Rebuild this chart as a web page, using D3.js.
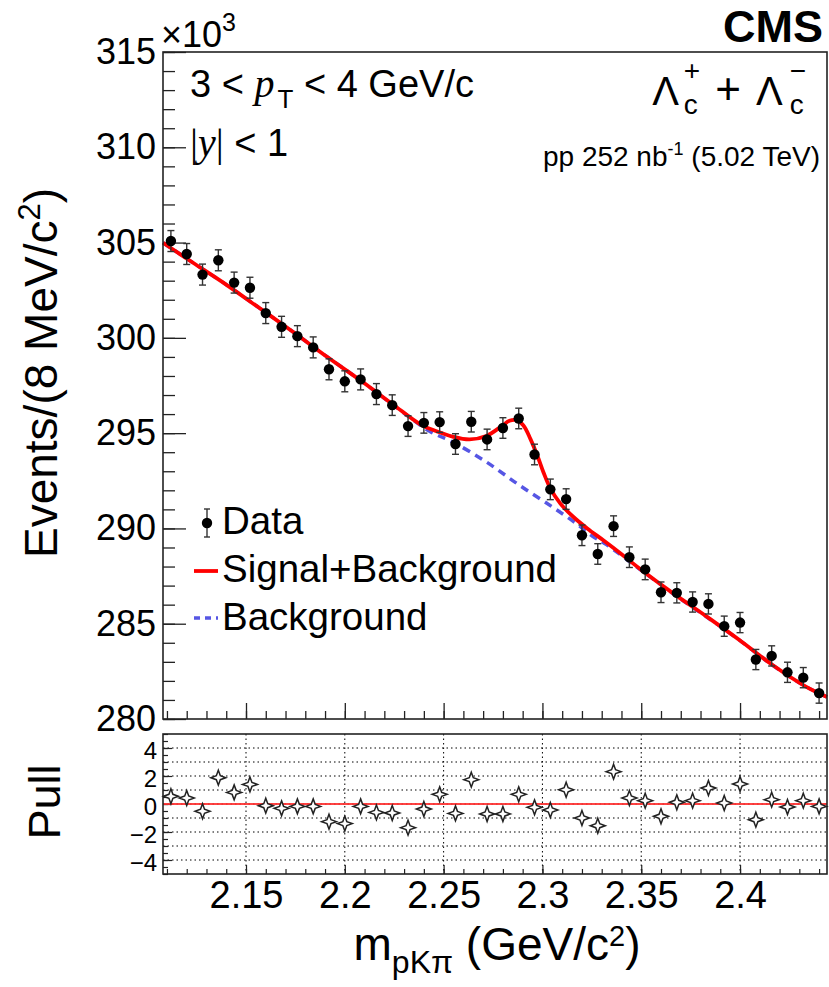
<!DOCTYPE html>
<html><head><meta charset="utf-8">
<script src="https://cdn.jsdelivr.net/npm/d3@7/dist/d3.min.js"></script>
<style>
html,body{margin:0;padding:0;background:#fff;}
svg{display:block;}
text{font-family:"Liberation Sans",Arial,Helvetica,sans-serif;fill:#000;}
</style></head>
<body>
<svg id="c" width="829" height="987"></svg>
<script>
// ---------------- data (counts in units of 10^3) ----------------
const massBins = [2.112,2.120,2.128,2.136,2.144,2.152,2.160,2.168,2.176,2.184,2.192,2.200,2.208,2.216,
  2.224,2.232,2.240,2.248,2.256,2.264,2.272,2.280,2.288,2.296,2.304,2.312,2.320,2.328,2.336,2.344,
  2.352,2.360,2.368,2.376,2.384,2.392,2.400,2.408,2.416,2.424,2.432,2.440];
const events = [305.08,304.40,303.32,304.07,302.90,302.63,301.30,300.58,300.09,299.50,298.35,297.72,
  297.82,297.05,296.47,295.37,295.54,295.58,294.43,295.60,294.67,295.27,295.77,293.88,292.05,291.54,
  289.64,288.66,290.12,288.49,287.85,286.65,286.62,286.14,286.04,284.87,285.06,283.12,283.31,282.45,
  282.17,281.36];
const eventErrors = [0.55,0.55,0.55,0.55,0.55,0.55,0.55,0.55,0.55,0.55,0.55,0.55,0.55,0.55,0.54,0.54,
  0.54,0.54,0.54,0.54,0.54,0.54,0.54,0.54,0.54,0.54,0.54,0.54,0.54,0.54,0.54,0.54,0.53,0.53,0.53,0.53,
  0.53,0.53,0.53,0.53,0.53,0.53];
const pulls = [0.55,0.43,-0.52,1.88,0.83,1.40,-0.12,-0.31,-0.17,-0.17,-1.26,-1.40,-0.17,-0.60,-0.64,
  -1.69,-0.36,0.69,-0.67,1.74,-0.71,-0.71,0.69,-0.24,-0.43,1.02,-1.00,-1.55,2.31,0.43,0.24,-0.88,0.12,
  0.24,1.14,0.07,1.43,-1.12,0.31,-0.21,0.24,-0.17];
// fitted curves, sampled from the figure
const fitMass = [2.108,2.1232,2.1403,2.1570,2.1737,2.1908,2.2075,2.2242,2.2384,2.2464,2.2545,2.2631,
  2.2716,2.2798,2.2833,2.2869,2.2904,2.2939,2.2975,2.3005,2.3040,2.3091,2.3157,2.3227,2.3308,2.3394,
  2.3491,2.3658,2.3828,2.3995,2.4161,2.4333,2.444];
const fitSB = [304.99,303.94,302.77,301.55,300.32,299.02,297.80,296.52,295.45,295.10,294.82,294.67,
  294.85,295.40,295.65,295.68,295.40,294.70,293.80,292.95,292.10,291.30,290.60,290.00,289.38,288.70,
  287.90,286.62,285.40,284.16,282.86,281.70,281.16];
const bkgMass = [2.108,2.1232,2.1403,2.1570,2.1737,2.1908,2.2075,2.2242,2.2429,2.2545,2.2716,2.2883,
  2.3050,2.3171,2.3252,2.3324,2.3491,2.3658,2.3828,2.3995,2.4161,2.4333,2.444];
const fitB = [304.99,303.94,302.77,301.55,300.32,299.02,297.80,296.50,295.10,294.54,293.49,292.27,
  291.13,290.26,289.60,289.15,287.87,286.60,285.38,284.15,282.85,281.70,281.16];
const yTicksMain = [280,285,290,295,300,305,310,315];
const xTicks = [2.15,2.2,2.25,2.3,2.35,2.4];
const xTickLabels = ["2.15","2.2","2.25","2.3","2.35","2.4"];
const pullTicks = [-4,-2,0,2,4];
const legendLabels = ["Data","Signal+Background","Background"];

// ---------------- layout ----------------
const L = 163, R = 827, T = 52, B = 719, PT = 734, PB = 874;
const svg = d3.select("#c");
const x = d3.scaleLinear().domain([2.108, 2.444]).range([L, R]);
const y = d3.scaleLinear().domain([280, 315]).range([B, T]);
const yp = d3.scaleLinear().domain([-5, 5]).range([PB, PT]);
const frameCol = "#222";
const SANS = "Liberation Sans, Arial, sans-serif";
const SERIF = "Liberation Serif, Times New Roman, serif";

// ---------- main panel ----------
const main = svg.append("g");
main.append("g").attr("transform", `translate(${L},0)`)
  .call(d3.axisLeft(y).tickValues(d3.range(280, 316, 1)).tickSizeInner(-12).tickSizeOuter(0).tickFormat(""))
  .call(g => g.select(".domain").remove()).selectAll("line").attr("stroke", frameCol).attr("stroke-width", 1.3);
main.append("g").attr("transform", `translate(${L},0)`)
  .call(d3.axisLeft(y).tickValues(yTicksMain).tickSizeInner(-23).tickSizeOuter(0).tickPadding(7).tickFormat(d3.format("d")))
  .call(g => g.select(".domain").remove())
  .call(g => g.selectAll("line").attr("stroke", frameCol).attr("stroke-width", 1.3))
  .call(g => g.selectAll("text").attr("font-size", 36).attr("font-family", SANS).attr("fill", "#000"));
main.append("g").attr("transform", `translate(0,${B})`)
  .call(d3.axisBottom(x).tickValues(d3.range(2.11, 2.445, 0.01)).tickSizeInner(-8).tickSizeOuter(0).tickFormat(""))
  .call(g => g.select(".domain").remove()).selectAll("line").attr("stroke", frameCol).attr("stroke-width", 1.3);
main.append("g").attr("transform", `translate(0,${B})`)
  .call(d3.axisBottom(x).tickValues(xTicks).tickSizeInner(-16).tickSizeOuter(0).tickFormat(""))
  .call(g => g.select(".domain").remove()).selectAll("line").attr("stroke", frameCol).attr("stroke-width", 1.3);

// background curve
const lineB = d3.line().x((d, i) => x(bkgMass[i])).y(d => y(d)).curve(d3.curveCatmullRom.alpha(0.5));
main.append("path").attr("d", lineB(fitB)).attr("fill", "none").attr("stroke", "#5656e4")
  .attr("stroke-width", 3.5).attr("stroke-dasharray", "8,6");
// S+B curve
const lineSB = d3.line().x((d, i) => x(fitMass[i])).y(d => y(d)).curve(d3.curveCatmullRom.alpha(0.5));
main.append("path").attr("d", lineSB(fitSB)).attr("fill", "none").attr("stroke", "#ff0000").attr("stroke-width", 3.8);

// data points
const pts = main.append("g");
events.forEach((v, i) => {
  const cx = x(massBins[i]), e = eventErrors[i];
  const y1 = y(v + e), y2 = y(v - e);
  pts.append("line").attr("x1", cx).attr("x2", cx).attr("y1", y1).attr("y2", y2).attr("stroke", "#333").attr("stroke-width", 1.4);
  pts.append("line").attr("x1", cx - 3.5).attr("x2", cx + 3.5).attr("y1", y1).attr("y2", y1).attr("stroke", "#333").attr("stroke-width", 1.4);
  pts.append("line").attr("x1", cx - 3.5).attr("x2", cx + 3.5).attr("y1", y2).attr("y2", y2).attr("stroke", "#333").attr("stroke-width", 1.4);
  pts.append("circle").attr("cx", cx).attr("cy", y(v)).attr("r", 5.2).attr("fill", "#000");
});

main.append("rect").attr("x", L).attr("y", T).attr("width", R - L).attr("height", B - T)
  .attr("fill", "none").attr("stroke", frameCol).attr("stroke-width", 1.6);

// ---------- pull panel ----------
const pp = svg.append("g");
pp.append("g").selectAll("line").data(d3.range(-4, 5, 1)).join("line")
  .attr("x1", L).attr("x2", R).attr("y1", d => yp(d)).attr("y2", d => yp(d))
  .attr("stroke", "#000").attr("stroke-width", 1).attr("stroke-dasharray", "1.5,3");
pp.append("g").selectAll("line").data(xTicks).join("line")
  .attr("x1", d => x(d)).attr("x2", d => x(d)).attr("y1", PT).attr("y2", PB)
  .attr("stroke", "#000").attr("stroke-width", 1).attr("stroke-dasharray", "1.5,3");
pp.append("g").attr("transform", `translate(${L},0)`)
  .call(d3.axisLeft(yp).tickValues(d3.range(-5, 5.01, 0.5)).tickSizeInner(-5).tickSizeOuter(0).tickFormat(""))
  .call(g => g.select(".domain").remove()).selectAll("line").attr("stroke", frameCol).attr("stroke-width", 1.2);
pp.append("g").attr("transform", `translate(${L},0)`)
  .call(d3.axisLeft(yp).tickValues(pullTicks).tickSizeInner(-9).tickSizeOuter(0).tickPadding(6).tickFormat(d => d < 0 ? "\u2212" + Math.abs(d) : d))
  .call(g => g.select(".domain").remove())
  .call(g => g.selectAll("line").attr("stroke", frameCol).attr("stroke-width", 1.2))
  .call(g => g.selectAll("text").attr("font-size", 24).attr("font-family", SANS).attr("fill", "#000").attr("dy", "0.45em"));
pp.append("g").attr("transform", `translate(0,${PB})`)
  .call(d3.axisBottom(x).tickValues(d3.range(2.11, 2.445, 0.01)).tickSizeInner(-5).tickSizeOuter(0).tickFormat(""))
  .call(g => g.select(".domain").remove()).selectAll("line").attr("stroke", frameCol).attr("stroke-width", 1.2);
pp.append("g").attr("transform", `translate(0,${PB})`)
  .call(d3.axisBottom(x).tickValues(xTicks).tickSizeInner(-9).tickSizeOuter(0).tickPadding(7).tickFormat((d, i) => xTickLabels[i]))
  .call(g => g.select(".domain").remove())
  .call(g => g.selectAll("line").attr("stroke", frameCol).attr("stroke-width", 1.2))
  .call(g => g.selectAll("text").attr("font-size", 38).attr("font-family", SANS).attr("fill", "#000"));
pp.append("line").attr("x1", L).attr("x2", R).attr("y1", yp(0)).attr("y2", yp(0))
  .attr("stroke", "#ff3030").attr("stroke-width", 1.8).attr("opacity", 0.9);
const star = (s, a) => `M0,${-s}L${a},${-a}L${s},0L${a},${a}L0,${s}L${-a},${a}L${-s},0L${-a},${-a}Z`;
pp.append("g").selectAll("path").data(pulls).join("path")
  .attr("transform", (d, i) => `translate(${x(massBins[i])},${yp(d)})`)
  .attr("d", star(7.5, 2)).attr("fill", "#fff").attr("stroke", "#222").attr("stroke-width", 1.5);
pp.append("rect").attr("x", L).attr("y", PT).attr("width", R - L).attr("height", PB - PT)
  .attr("fill", "none").attr("stroke", frameCol).attr("stroke-width", 1.6);

// ---------- titles ----------
const yt = svg.append("text").attr("transform", "translate(57,373) rotate(-90)")
  .attr("text-anchor", "middle").attr("font-size", 46);
yt.append("tspan").text("Events/(8 MeV/c");
yt.append("tspan").attr("font-size", 31).attr("dy", -17).text("2");
yt.append("tspan").attr("dy", 17).text(")");

svg.append("text").attr("transform", "translate(60,802) rotate(-90)")
  .attr("text-anchor", "middle").attr("font-size", 45).text("Pull");

const xt = svg.append("text").attr("x", 497).attr("y", 960).attr("text-anchor", "middle").attr("font-size", 46);
xt.append("tspan").text("m");
xt.append("tspan").attr("font-size", 32).attr("dy", 13).text("pK\u03c0");
xt.append("tspan").attr("dy", -13).text(" (GeV/c");
xt.append("tspan").attr("font-size", 29).attr("dy", -14).text("2");
xt.append("tspan").attr("dy", 14).text(")");

const ex = svg.append("text").attr("x", 161).attr("y", 47).attr("font-size", 36);
ex.append("tspan").text("\u00d710");
ex.append("tspan").attr("font-size", 25).attr("dy", -16).text("3");

svg.append("text").attr("x", 823).attr("y", 42).attr("text-anchor", "end")
  .attr("font-size", 45).attr("font-weight", "bold").text("CMS");

const pt = svg.append("text").attr("x", 190).attr("y", 97).attr("font-size", 38);
pt.append("tspan").text("3 < ");
pt.append("tspan").attr("font-family", SERIF).attr("font-style", "italic").attr("font-size", 40).text("p");
pt.append("tspan").attr("font-size", 26).attr("dy", 11).attr("dx", 3).text("T");
pt.append("tspan").attr("dy", -11).text(" < 4 GeV/c");

const yr = svg.append("text").attr("x", 190).attr("y", 156).attr("font-size", 38);
yr.append("tspan").attr("font-family", SERIF).attr("font-size", 40).text("|");
yr.append("tspan").attr("font-family", SERIF).attr("font-style", "italic").attr("font-size", 40).text("y");
yr.append("tspan").attr("font-family", SERIF).attr("font-size", 40).text("|");
yr.append("tspan").text(" < 1");

// Lambda_c labels
const lam = svg.append("g");
function piece(t, xx, yy, fs) {
  const n = lam.append("text").attr("x", xx).attr("y", yy).attr("font-size", fs)
    .attr("font-family", SERIF).text(t);
  return n.node().getComputedTextLength();
}
let cx0 = 0;
cx0 += piece("\u039b", cx0, 105, 40);
let wA = piece("c", cx0 + 5, 114, 28);
let wB = piece("+", cx0 + 5, 80, 28);
cx0 += 5 + Math.max(wA, wB) + 15;
cx0 += piece("+", cx0, 104, 44) + 15;
cx0 += piece("\u039b", cx0, 105, 40);
wA = piece("c", cx0 + 7, 114, 28);
wB = piece("\u2212", cx0 + 7, 80, 28);
cx0 += 7 + Math.max(wA, wB);
lam.attr("transform", `translate(${806 - cx0},0)`);

const lu = svg.append("text").attr("x", 820).attr("y", 166).attr("text-anchor", "end").attr("font-size", 28);
lu.append("tspan").text("pp 252 nb");
lu.append("tspan").attr("font-size", 18).attr("dy", -11).text("-1");
lu.append("tspan").attr("dy", 11).text(" (5.02 TeV)");

// ---------- legend ----------
const lg = svg.append("g");
lg.append("line").attr("x1", 207).attr("x2", 207).attr("y1", 509).attr("y2", 537).attr("stroke", "#333").attr("stroke-width", 1.4);
lg.append("line").attr("x1", 204).attr("x2", 210).attr("y1", 509).attr("y2", 509).attr("stroke", "#333").attr("stroke-width", 1.4);
lg.append("line").attr("x1", 204).attr("x2", 210).attr("y1", 537).attr("y2", 537).attr("stroke", "#333").attr("stroke-width", 1.4);
lg.append("circle").attr("cx", 207).attr("cy", 523).attr("r", 5.2).attr("fill", "#000");
lg.append("line").attr("x1", 194).attr("x2", 218).attr("y1", 571).attr("y2", 571).attr("stroke", "#ff0000").attr("stroke-width", 3.8);
lg.append("line").attr("x1", 194).attr("x2", 218).attr("y1", 618).attr("y2", 618).attr("stroke", "#5656e4").attr("stroke-width", 3.5).attr("stroke-dasharray", "6,5");
lg.selectAll("text.lg").data(legendLabels).join("text").attr("class", "lg")
  .attr("x", 222).attr("y", (d, i) => 534 + i * 48).attr("font-size", 38.5).text(d => d);
</script>
</body></html>
